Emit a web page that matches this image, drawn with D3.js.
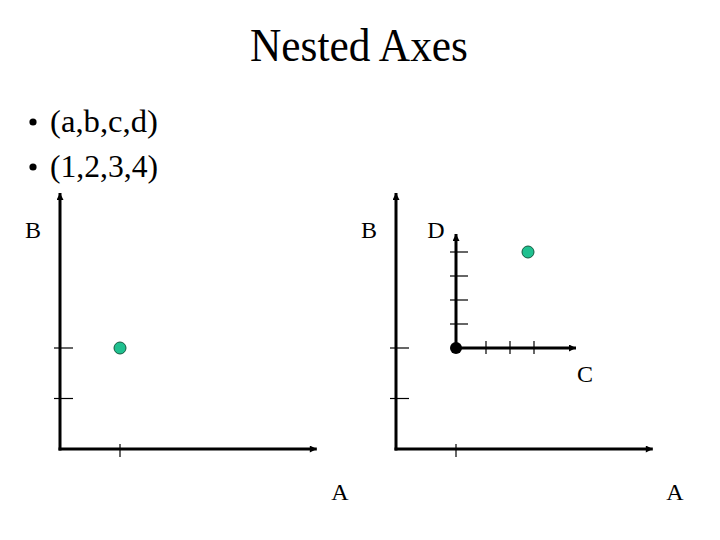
<!DOCTYPE html>
<html>
<head>
<meta charset="utf-8">
<script src="https://cdn.jsdelivr.net/npm/d3@7"></script>
<style>
  html, body { margin: 0; padding: 0; background: #fff; }
  svg { display: block; font-family: "Liberation Serif", "Times New Roman", serif; }
</style>
</head>
<body>
<script>
// ---- data ----
const title = "Nested Axes";
const bullets = ["(a,b,c,d)", "(1,2,3,4)"];
const point = { a: 1, b: 2, c: 3, d: 4 };
const outerATicks = [1];
const outerBTicks = [1, 2];
const innerCTicks = [1.25, 2.25, 3.25];
const innerDTicks = [1, 2, 3, 4];
const outerAMax = 4.28, outerBMax = 5.07;
const innerCMax = 5, innerDMax = 4.75;

const W = 720, H = 540;
const svg = d3.select("body").append("svg").attr("width", W).attr("height", H);

const defs = svg.append("defs");
defs.append("marker").attr("id", "arr")
  .attr("markerUnits", "userSpaceOnUse")
  .attr("viewBox", "0 0 10 10").attr("refX", 10).attr("refY", 5)
  .attr("markerWidth", 8).attr("markerHeight", 7).attr("orient", "auto")
  .append("path").attr("d", "M0,0 L10,5 L0,10 Z").attr("fill", "#000");

// title
svg.append("text").attr("x", 359).attr("y", 61).attr("text-anchor", "middle")
  .attr("font-size", 46).attr("textLength", 218).attr("lengthAdjust", "spacingAndGlyphs")
  .text(title);

// bullets
bullets.forEach((t, i) => {
  const y = 132 + i * 45;
  svg.append("circle").attr("cx", 33).attr("cy", y - 10).attr("r", 3.6).attr("fill", "#000");
  svg.append("text").attr("x", 50).attr("y", y).attr("font-size", 32).attr("textLength", 108).attr("lengthAdjust", "spacingAndGlyphs").text(t);
});

const green = "#1fc08f";

function drawAxes(g, x, y, xMax, yMax, xTicks, yTicks, yTickL, yTickR, xTickU, xTickD) {
  const x0 = x(0), y0 = y(0);
  g.append("line").attr("x1", x0).attr("y1", y0 + 1.5).attr("x2", x0).attr("y2", y(yMax))
    .attr("stroke", "#000").attr("stroke-width", 3).attr("marker-end", "url(#arr)");
  g.append("line").attr("x1", x0 - 1.5).attr("y1", y0).attr("x2", x(xMax)).attr("y2", y0)
    .attr("stroke", "#000").attr("stroke-width", 3).attr("marker-end", "url(#arr)");
  g.selectAll(null).data(yTicks).join("line")
    .attr("x1", x0 - yTickL).attr("x2", x0 + yTickR)
    .attr("y1", d => y(d)).attr("y2", d => y(d))
    .attr("stroke", "#000").attr("stroke-width", 1.2);
  g.selectAll(null).data(xTicks).join("line")
    .attr("x1", d => x(d)).attr("x2", d => x(d))
    .attr("y1", y0 - xTickU).attr("y2", y0 + xTickD)
    .attr("stroke", "#000").attr("stroke-width", 1.2);
}

// ---- left panel ----
const xL = d3.scaleLinear().domain([0, 1]).range([60, 120]);
const yL = d3.scaleLinear().domain([0, 2]).range([449, 348]);
const gL = svg.append("g");
drawAxes(gL, xL, yL, outerAMax, outerBMax, outerATicks, outerBTicks, 6, 13, 5, 8);
gL.append("circle").attr("cx", xL(point.a)).attr("cy", yL(point.b)).attr("r", 6)
  .attr("fill", green).attr("stroke", "#145a40").attr("stroke-width", 1);
gL.append("text").attr("x", 33).attr("y", 238).attr("text-anchor", "middle").attr("font-size", 24).text("B");
gL.append("text").attr("x", 340).attr("y", 500).attr("text-anchor", "middle").attr("font-size", 24).text("A");

// ---- right panel ----
const xR = d3.scaleLinear().domain([0, 1]).range([396, 456]);
const yR = d3.scaleLinear().domain([0, 2]).range([449, 348]);
const gR = svg.append("g");
drawAxes(gR, xR, yR, outerAMax, outerBMax, outerATicks, outerBTicks, 6, 13, 5, 8);
gR.append("text").attr("x", 369).attr("y", 238).attr("text-anchor", "middle").attr("font-size", 24).text("B");
gR.append("text").attr("x", 675).attr("y", 500).attr("text-anchor", "middle").attr("font-size", 24).text("A");

// inner axes, origin at (a, b) of the outer system
const ox = xR(point.a), oy = yR(point.b);
const xC = d3.scaleLinear().domain([0, 1]).range([ox, ox + 24]);
const yD = d3.scaleLinear().domain([0, 1]).range([oy, oy - 24]);
const gI = svg.append("g");
drawAxes(gI, xC, yD, innerCMax, innerDMax, innerCTicks, innerDTicks, 6, 12, 7, 6);
gI.append("circle").attr("cx", xC(0)).attr("cy", yD(0)).attr("r", 6).attr("fill", "#000");
gI.append("circle").attr("cx", xC(point.c)).attr("cy", yD(point.d)).attr("r", 6)
  .attr("fill", green).attr("stroke", "#145a40").attr("stroke-width", 1);
gI.append("text").attr("x", 436).attr("y", 238).attr("text-anchor", "middle").attr("font-size", 24).text("D");
gI.append("text").attr("x", 585).attr("y", 382).attr("text-anchor", "middle").attr("font-size", 24).text("C");
</script>
</body>
</html>
